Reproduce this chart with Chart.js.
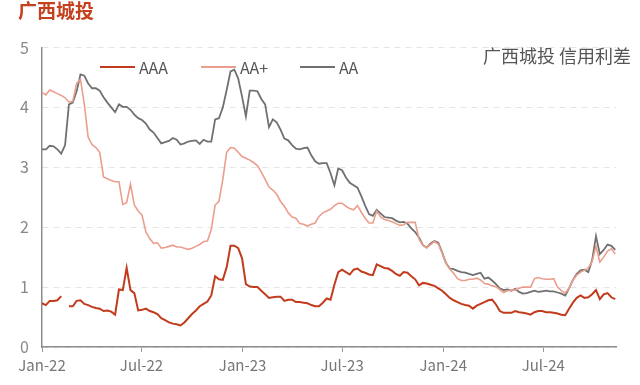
<!DOCTYPE html>
<html>
<head>
<meta charset="utf-8">
<script src="https://cdn.jsdelivr.net/npm/chart.js@4.4.1/dist/chart.umd.min.js"></script>
<style>
  body { margin: 0; background: #fff; }
  #wrap { position: relative; width: 640px; height: 385px; font-family: "Noto Sans CJK SC", "Noto Sans", sans-serif; }
  #title { position: absolute; left: 18px; top: -3px; font-size: 19px; font-weight: bold; color: #c5401c; line-height: 26px; }
  #note { position: absolute; right: 9px; top: 43px; font-size: 18px; color: #555; line-height: 24px; }
  .lg { position: absolute; top: 55px; height: 24px; line-height: 24px; font-size: 16px; color: #555; }
  .lg i { position: absolute; left: 0; top: 11px; width: 35px; height: 2px; }
  .lg span { position: absolute; left: 39px; white-space: nowrap; }
</style>
</head>
<body>
<div id="wrap">
  <canvas id="spread" width="640" height="385"></canvas>
  <div id="title">广西城投</div>
  <div id="note">广西城投 信用利差</div>
  <div class="lg" style="left:100px"><i style="background:#c23b1c"></i><span>AAA</span></div>
  <div class="lg" style="left:201px"><i style="background:#eb9e8e"></i><span>AA+</span></div>
  <div class="lg" style="left:300px"><i style="background:#707070"></i><span>AA</span></div>
</div>
<script>
  // Weekly credit spreads (%), first point = first week of Jan-22
  const aaa = [
    0.73, 0.70, 0.77, 0.77, 0.78, 0.85, null, 0.68, 0.68, 0.77,
    0.78, 0.72, 0.70, 0.67, 0.65, 0.64, 0.60, 0.61, 0.59, 0.54,
    0.96, 0.95, 1.32, 0.95, 0.90, 0.61, 0.62, 0.64, 0.60, 0.58,
    0.55, 0.48, 0.45, 0.41, 0.39, 0.38, 0.36, 0.41, 0.48, 0.55,
    0.61, 0.68, 0.72, 0.76, 0.86, 1.18, 1.13, 1.12, 1.33, 1.69,
    1.69, 1.65, 1.48, 1.05, 1.01, 1.00, 1.00, 0.94, 0.88, 0.82,
    0.83, 0.84, 0.84, 0.77, 0.79, 0.79, 0.75, 0.75, 0.74, 0.73,
    0.70, 0.68, 0.68, 0.74, 0.81, 0.79, 1.04, 1.25, 1.29, 1.25,
    1.21, 1.29, 1.31, 1.26, 1.24, 1.21, 1.20, 1.38, 1.35, 1.32,
    1.31, 1.27, 1.22, 1.19, 1.25, 1.24, 1.18, 1.13, 1.03, 1.07,
    1.06, 1.04, 1.02, 0.98, 0.94, 0.88, 0.82, 0.78, 0.75, 0.72,
    0.70, 0.69, 0.64, 0.69, 0.72, 0.75, 0.78, 0.79, 0.71, 0.60,
    0.57, 0.57, 0.57, 0.60, 0.58, 0.57, 0.56, 0.54, 0.58, 0.60,
    0.60, 0.58, 0.58, 0.57, 0.56, 0.54, 0.53, 0.64, 0.74, 0.82,
    0.86, 0.82, 0.83, 0.88, 0.95, 0.80, 0.88, 0.90, 0.83, 0.80
  ];
  const aaPlus = [
    4.25, 4.21, 4.29, 4.26, 4.23, 4.20, 4.16, 4.09, 4.10, 4.40,
    4.47, 4.05, 3.50, 3.38, 3.33, 3.25, 2.84, 2.81, 2.78, 2.76,
    2.76, 2.38, 2.41, 2.72, 2.37, 2.27, 2.20, 1.92, 1.81, 1.73,
    1.74, 1.65, 1.66, 1.68, 1.70, 1.67, 1.67, 1.65, 1.63, 1.65,
    1.68, 1.71, 1.76, 1.77, 1.96, 2.37, 2.43, 2.80, 3.25, 3.33,
    3.32, 3.25, 3.18, 3.15, 3.12, 3.08, 3.03, 2.92, 2.80, 2.67,
    2.62, 2.55, 2.43, 2.35, 2.24, 2.17, 2.15, 2.06, 2.05, 2.02,
    2.05, 2.07, 2.18, 2.24, 2.27, 2.30, 2.36, 2.40, 2.40, 2.35,
    2.31, 2.29, 2.36, 2.25, 2.15, 2.07, 2.07, 2.27, 2.17, 2.13,
    2.11, 2.09, 2.06, 2.03, 2.04, 2.08, 2.08, 2.08, 1.80, 1.70,
    1.66, 1.71, 1.76, 1.72, 1.57, 1.40, 1.30, 1.23, 1.14, 1.11,
    1.11, 1.13, 1.13, 1.15, 1.12, 1.06, 1.05, 1.02, 1.01, 0.96,
    0.91, 0.94, 0.95, 0.95, 0.98, 1.00, 1.00, 1.00, 1.14, 1.16,
    1.14, 1.13, 1.13, 1.14, 1.00, 0.94, 0.90, 0.98, 1.12, 1.20,
    1.25, 1.28, 1.32, 1.43, 1.68, 1.42, 1.50, 1.60, 1.64, 1.55
  ];
  const aa = [
    3.30, 3.30, 3.36, 3.35, 3.30, 3.23, 3.37, 4.05, 4.08, 4.27,
    4.55, 4.53, 4.40, 4.32, 4.32, 4.28, 4.17, 4.08, 4.00, 3.92,
    4.05, 4.01, 4.01, 3.96, 3.88, 3.82, 3.79, 3.73, 3.63, 3.58,
    3.49, 3.40, 3.42, 3.44, 3.49, 3.46, 3.38, 3.40, 3.43, 3.44,
    3.45, 3.39, 3.46, 3.43, 3.43, 3.80, 3.82, 4.00, 4.29, 4.60,
    4.63, 4.48, 4.18, 3.85, 4.28, 4.28, 4.27, 4.14, 4.05, 3.67,
    3.80, 3.75, 3.63, 3.48, 3.45, 3.37, 3.31, 3.30, 3.32, 3.33,
    3.20, 3.10, 3.06, 3.07, 3.07, 2.90, 2.70, 2.98, 2.95, 2.83,
    2.74, 2.70, 2.66, 2.52, 2.36, 2.22, 2.19, 2.29, 2.23, 2.17,
    2.16, 2.15, 2.11, 2.08, 2.09, 2.06, 1.98, 1.92, 1.83, 1.70,
    1.66, 1.73, 1.77, 1.74, 1.58, 1.40, 1.31, 1.30, 1.27, 1.25,
    1.24, 1.22, 1.20, 1.22, 1.24, 1.14, 1.16, 1.11, 1.05, 0.98,
    0.95, 0.96, 0.94, 0.97, 0.92, 0.89, 0.90, 0.92, 0.94, 0.92,
    0.93, 0.94, 0.93, 0.93, 0.91, 0.89, 0.86, 0.98, 1.12, 1.22,
    1.28, 1.29, 1.25, 1.45, 1.85, 1.55, 1.62, 1.71, 1.69, 1.62
  ];
  // x-axis labels, placed at the week offset of the 1st of the month
  const tickWeeks = [0, 25.86, 52.14, 78, 104.29, 130.29];
  const tickLabels = ['Jan-22', 'Jul-22', 'Jan-23', 'Jul-23', 'Jan-24', 'Jul-24'];

  const pts = (arr) => arr.map((v, i) => ({ x: i, y: v }));
  const fontFam = '"Noto Sans CJK SC", "Noto Sans", sans-serif';

  new Chart(document.getElementById('spread').getContext('2d'), {
    type: 'line',
    data: {
      datasets: [
        { label: 'AAA', data: pts(aaa), borderColor: '#c23b1c', borderWidth: 2 },
        { label: 'AA+', data: pts(aaPlus), borderColor: '#eb9e8e', borderWidth: 1.6 },
        { label: 'AA', data: pts(aa), borderColor: '#707070', borderWidth: 1.8 }
      ]
    },
    options: {
      responsive: false,
      animation: false,
      spanGaps: false,
      elements: { point: { radius: 0 }, line: { tension: 0 } },
      layout: { padding: { top: 47.5, right: 24, left: 0, bottom: 0 } },
      scales: {
        x: {
          type: 'linear',
          min: 0,
          max: 149.2,
          afterBuildTicks: (s) => { s.ticks = tickWeeks.map((v) => ({ value: v })); },
          afterFit: (s) => { s.height = 38; },
          ticks: {
            autoSkip: false,
            maxRotation: 0,
            padding: 4,
            color: '#777',
            font: { family: fontFam, size: 15 },
            callback: (v, i) => tickLabels[i]
          },
          grid: { drawOnChartArea: false, drawTicks: true, tickLength: 5, color: '#999' },
          border: { color: '#8c8c8c', width: 1.5 }
        },
        y: {
          min: 0,
          max: 5,
          afterFit: (s) => { s.width = 42; },
          ticks: { stepSize: 1, padding: 13, color: '#888', font: { family: fontFam, size: 16 } },
          grid: { color: '#e4e4e4', drawTicks: false, lineWidth: 1 },
          border: { color: '#8c8c8c', width: 1.5, dash: [6, 5] }
        }
      },
      plugins: {
        legend: { display: false },
        tooltip: { enabled: false }
      }
    }
  });
</script>
</body>
</html>
